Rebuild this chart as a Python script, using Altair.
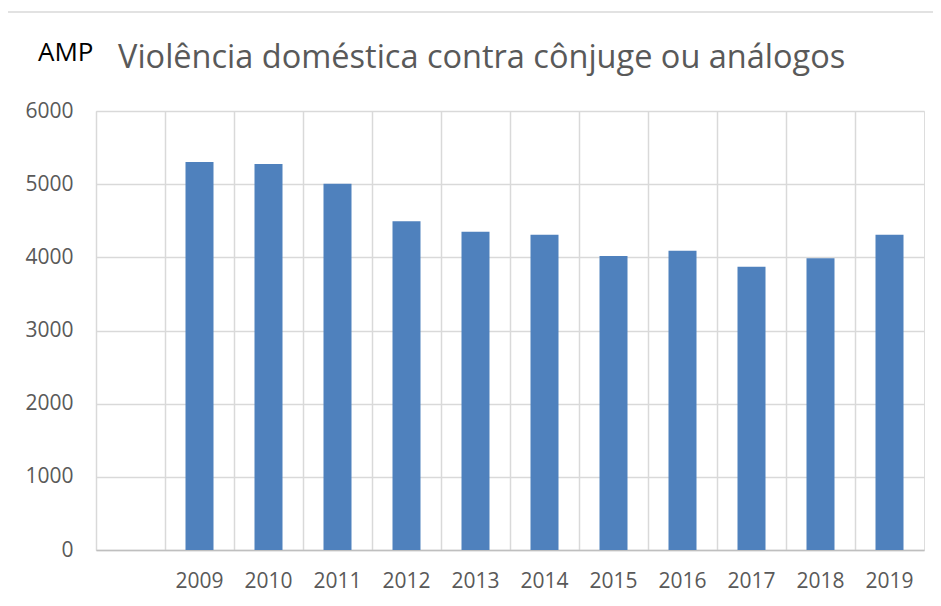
import altair as alt
import pandas as pd

years = ["2009", "2010", "2011", "2012", "2013", "2014", "2015", "2016", "2017", "2018", "2019"]
values = [5302, 5275, 5007, 4494, 4350, 4309, 4018, 4091, 3873, 3986, 4309]
domain_x = [" "] + years
y_ticks = [0, 1000, 2000, 3000, 4000, 5000, 6000]
title_text = "Violência doméstica contra cônjuge ou análogos"
tag_text = "AMP"

FONT = "Open Sans"
GRAY = "#595959"
GRID = "#d9d9d9"

df = pd.DataFrame({"ano": years, "valor": values})

bars = alt.Chart(df).mark_bar(size=28, color="#4f81bd").encode(
    x=alt.X(
        "ano:N",
        scale=alt.Scale(domain=domain_x, paddingInner=0, paddingOuter=0),
        axis=alt.Axis(
            title=None,
            labelAngle=0,
            labelFont=FONT,
            labelFontSize=21,
            labelColor=GRAY,
            labelPadding=20,
            ticks=False,
            domainColor="#bfbfbf",
            domainWidth=1.5,
            grid=True,
            gridColor=GRID,
            gridWidth=1.5,
            bandPosition=0,
        ),
    ),
    y=alt.Y(
        "valor:Q",
        scale=alt.Scale(domain=[0, 6000], nice=False),
        axis=alt.Axis(
            title=None,
            values=y_ticks,
            format="d",
            labelFont=FONT,
            labelFontSize=21,
            labelColor=GRAY,
            labelPadding=23,
            ticks=False,
            domain=False,
            gridColor=GRID,
            gridWidth=1.5,
        ),
    ),
)

frame = alt.Chart(pd.DataFrame({"k": [1]})).mark_rect(
    fill=None, stroke=GRID, strokeWidth=1.5
).encode(
    x=alt.value(-89), x2=alt.value(1200), y=alt.value(-99), y2=alt.value(1200)
)

tag = alt.Chart(pd.DataFrame({"t": [tag_text]})).mark_text(
    align="left", baseline="alphabetic", font=FONT, fontSize=26, color="#000000"
).encode(text="t:N", x=alt.value(-58), y=alt.value(-50))

title = alt.Chart(pd.DataFrame({"t": [title_text]})).mark_text(
    align="left", baseline="alphabetic", font=FONT, fontSize=32.5, color=GRAY
).encode(text="t:N", x=alt.value(22), y=alt.value(-43))

chart = alt.layer(frame, bars, tag, title).properties(
    width=828,
    height=439,
    autosize=alt.AutoSizeParams(type="none"),
    padding={"left": 88, "top": 103, "right": 9, "bottom": 48},
).configure_view(stroke=GRID, strokeWidth=1.5).configure(background="white")

chart.save("out.html", embed_options={"renderer": "svg", "actions": False})
